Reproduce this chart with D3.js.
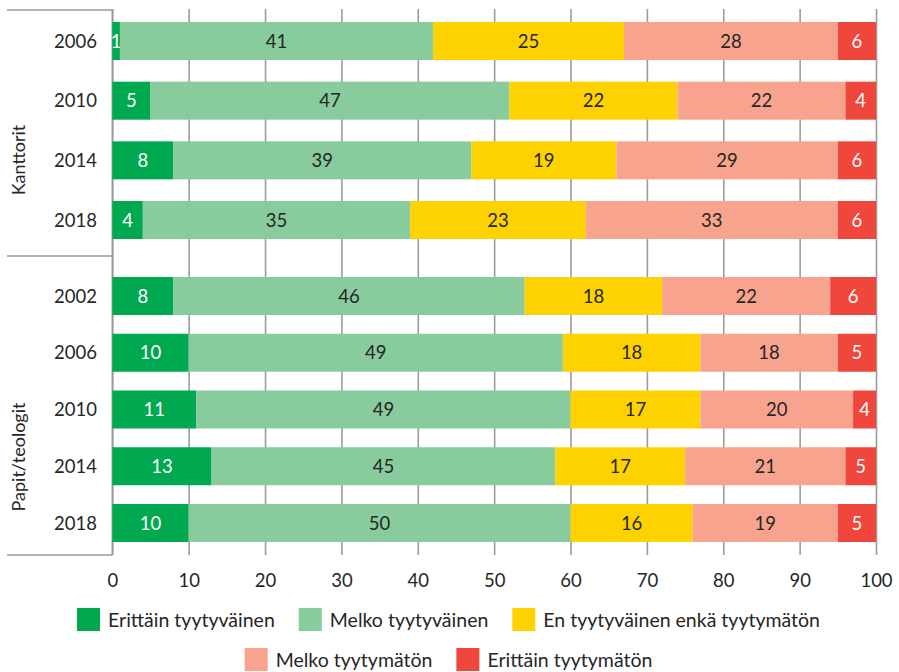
<!DOCTYPE html>
<html>
<head>
<meta charset="utf-8">
<script src="https://cdn.jsdelivr.net/npm/d3@7"></script>
<style>
  html, body { margin: 0; padding: 0; background: #fff; }
  svg { display: block; font-family: Lato, "Open Sans", sans-serif; }
</style>
</head>
<body>
<svg id="chart" width="899" height="672"></svg>
<script>
// ---- Data ----
const groupNames = ["Kanttorit", "Papit/teologit"];
const kanttoritYears = ["2006", "2010", "2014", "2018"];
const papitYears = ["2002", "2006", "2010", "2014", "2018"];
const seriesNames = [
  "Erittäin tyytyväinen",
  "Melko tyytyväinen",
  "En tyytyväinen enkä tyytymätön",
  "Melko tyytymätön",
  "Erittäin tyytymätön"
];
// rows: Kanttorit 2006, 2010, 2014, 2018, Papit/teologit 2002, 2006, 2010, 2014, 2018
const erittainTyytyvainen = [1, 5, 8, 4, 8, 10, 11, 13, 10];
const melkoTyytyvainen    = [41, 47, 39, 35, 46, 49, 49, 45, 50];
const enTyytyvainenEnka   = [25, 22, 19, 23, 18, 18, 17, 17, 16];
const melkoTyytymaton     = [28, 22, 29, 33, 22, 18, 20, 21, 19];
const erittainTyytymaton  = [6, 4, 6, 6, 6, 5, 4, 5, 5];
const xTicks = [0, 10, 20, 30, 40, 50, 60, 70, 80, 90, 100];

const seriesColors = ["#00a84f", "#88cb9c", "#fdd200", "#f7a38d", "#ef473b"];
const labelColors  = ["#ffffff", "#262626", "#262626", "#262626", "#ffffff"];

// ---- Build table ----
const seriesArrays = [erittainTyytyvainen, melkoTyytyvainen, enTyytyvainenEnka, melkoTyytymaton, erittainTyytymaton];
const rows = [];
kanttoritYears.forEach(y => rows.push({ group: groupNames[0], year: y, key: "k" + y }));
papitYears.forEach(y => rows.push({ group: groupNames[1], year: y, key: "p" + y }));
rows.forEach((r, i) => seriesNames.forEach((s, j) => r[s] = seriesArrays[j][i]));

// ---- Layout ----
const svg = d3.select("#chart");
const plotLeft = 112.3, plotRight = 876, plotTop = 9, plotBottom = 555;
const barH = 38;
const textColor = "#262626";
const gridColor = "#9b9b9b";
const fontSize = 18;
const legendFontSize = 19.5;

const x = d3.scaleLinear().domain([0, 100]).range([plotLeft, plotRight]).clamp(true);
const yK = d3.scalePoint().domain(rows.filter(r => r.group === groupNames[0]).map(r => r.key)).range([41, 220]);
const yP = d3.scalePoint().domain(rows.filter(r => r.group === groupNames[1]).map(r => r.key)).range([296, 523]);
const yc = r => (r.group === groupNames[0] ? yK(r.key) : yP(r.key));

// gridlines via axis
const xAxis = d3.axisBottom(x).tickValues(xTicks).tickSizeInner(-(plotBottom - plotTop)).tickSizeOuter(0).tickPadding(19);
const gAxis = svg.append("g").attr("transform", `translate(0,${plotBottom})`).call(xAxis);
gAxis.select(".domain").remove();
gAxis.selectAll(".tick line").attr("stroke", gridColor).attr("stroke-width", 1.6);
gAxis.selectAll(".tick text").attr("fill", textColor).style("font-size", (fontSize + 0.5) + "px").style("font-family", "Lato, sans-serif");

// left category box lines
const boxLeft = 7;
const sepY = 256;
const lines = [
  [boxLeft, plotTop + 1, plotLeft, plotTop + 1],
  [boxLeft, sepY, plotLeft, sepY],
  [boxLeft, plotBottom, plotLeft, plotBottom],
  [plotLeft, plotTop + 1, plotLeft, plotBottom]
];
svg.append("g").selectAll("line").data(lines).join("line")
  .attr("x1", d => d[0]).attr("y1", d => d[1]).attr("x2", d => d[2]).attr("y2", d => d[3])
  .attr("stroke", gridColor).attr("stroke-width", 1.6);

// stacked bars
const stack = d3.stack().keys(seriesNames);
const stacked = stack(rows);

const gBars = svg.append("g");
stacked.forEach((layer, j) => {
  const g = gBars.append("g");
  g.selectAll("rect").data(layer).join("rect")
    .attr("x", d => x(d[0]))
    .attr("width", d => Math.max(0, x(d[1]) - x(d[0])))
    .attr("y", d => yc(d.data) - barH / 2)
    .attr("height", barH)
    .attr("fill", seriesColors[j]);
  g.selectAll("text").data(layer).join("text")
    .attr("x", d => (x(d[0]) + x(d[1])) / 2)
    .attr("y", d => yc(d.data))
    .attr("dy", "0.36em")
    .attr("text-anchor", "middle")
    .attr("fill", labelColors[j])
    .style("font-size", (fontSize + 0.5) + "px")
    .text(d => d.data[seriesNames[j]]);
});

// year labels
svg.append("g").selectAll("text").data(rows).join("text")
  .attr("x", 97)
  .attr("y", d => yc(d))
  .attr("dy", "0.36em")
  .attr("text-anchor", "end")
  .attr("fill", textColor)
  .style("font-size", (fontSize + 0.5) + "px")
  .text(d => d.year);

// group labels (rotated)
const groupLabelPos = [{ name: groupNames[0], cx: 19, cy: 160 }, { name: groupNames[1], cx: 19, cy: 457 }];
svg.append("g").selectAll("text").data(groupLabelPos).join("text")
  .attr("transform", d => `translate(${d.cx},${d.cy}) rotate(-90)`)
  .attr("dy", "0.36em")
  .attr("text-anchor", "middle")
  .attr("fill", textColor)
  .style("font-size", fontSize + "px")
  .text(d => d.name);

// legend
const legendRows = [[0, 1, 2], [3, 4]];
const legendRowY = [619.5, 659.5];
const sw = 23, swGap = 8, itemGap = 24;
const centerX = 448.5;
legendRows.forEach((idxs, ri) => {
  const g = svg.append("g");
  const items = idxs.map(i => {
    const ig = g.append("g");
    ig.append("rect").attr("width", sw).attr("height", sw).attr("y", -sw / 2).attr("fill", seriesColors[i]);
    const t = ig.append("text").attr("x", sw + swGap).attr("dy", "0.36em")
      .attr("fill", textColor).style("font-size", legendFontSize + "px").text(seriesNames[i]);
    return { g: ig, w: sw + swGap + t.node().getComputedTextLength() };
  });
  const total = d3.sum(items, d => d.w) + itemGap * (items.length - 1);
  let cx = centerX - total / 2;
  items.forEach(it => {
    it.g.attr("transform", `translate(${cx},${legendRowY[ri]})`);
    cx += it.w + itemGap;
  });
});
</script>
</body>
</html>
